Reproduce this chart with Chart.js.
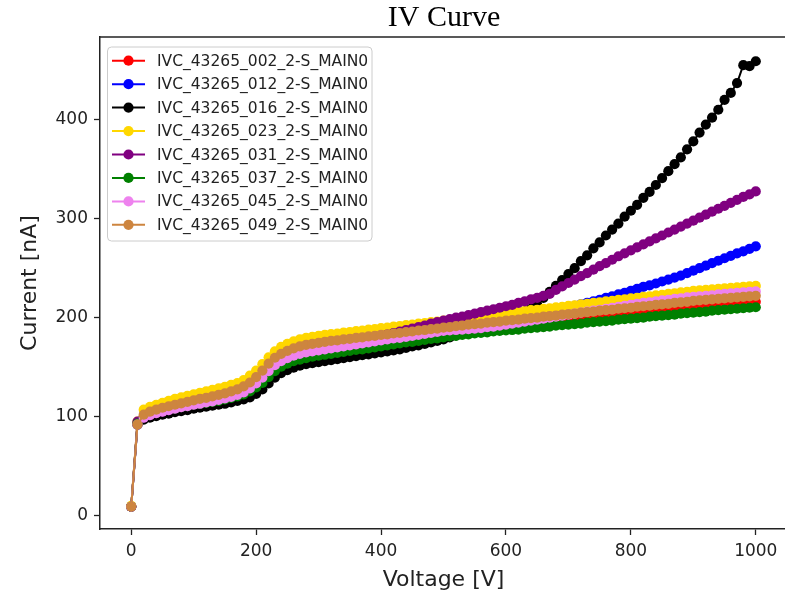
<!DOCTYPE html>
<html>
<head>
<meta charset="utf-8">
<title>IV Curve</title>
<script src="https://cdn.jsdelivr.net/npm/chart.js@4"></script>
<style>
    html, body { margin: 0; padding: 0; background: #fff; overflow: hidden; }
    #wrap { width: 785px; height: 595px; overflow: hidden; }
</style>
</head>
<body>
<div id="wrap"><canvas id="ivChart" width="800" height="595"></canvas></div>
<script>
// bias voltage steps [V]
const voltages = [
    0, 10, 20, 30, 40, 50, 60, 70, 80, 90,
    100, 110, 120, 130, 140, 150, 160, 170, 180, 190,
    200, 210, 220, 230, 240, 250, 260, 270, 280, 290,
    300, 310, 320, 330, 340, 350, 360, 370, 380, 390,
    400, 410, 420, 430, 440, 450, 460, 470, 480, 490,
    500, 510, 520, 530, 540, 550, 560, 570, 580, 590,
    600, 610, 620, 630, 640, 650, 660, 670, 680, 690,
    700, 710, 720, 730, 740, 750, 760, 770, 780, 790,
    800, 810, 820, 830, 840, 850, 860, 870, 880, 890,
    900, 910, 920, 930, 940, 950, 960, 970, 980, 990,
    1000
];

// leakage current [nA]
const i002 = [
    9, 93, 100, 102.5, 104.5, 106, 107.5, 108.5, 110, 111,
    112.5, 113.5, 114.5, 115.5, 116.5, 118, 119.5, 121, 123, 126,
    130, 134.5, 140.5, 146.5, 151, 154, 156.5, 158, 159.5, 161,
    162, 163, 164, 165, 166, 167, 168, 168.5, 169.5, 170.5,
    171.5, 172.5, 173.5, 174.5, 175.5, 176.5, 177.5, 178.5, 179.5, 180.5,
    181.5, 182.5, 183.5, 184.5, 185.5, 186.5, 187.5, 188, 189, 190,
    191, 191.5, 192.5, 193, 194, 195, 195.5, 196.5, 197, 198,
    199, 199.5, 200.5, 201, 202, 202.5, 203.5, 204, 205, 205.5,
    206.5, 207, 207.5, 208.5, 209, 209.5, 210.5, 211, 211.5, 212,
    212.5, 213, 213.5, 214, 214, 214.5, 215, 215, 215.5, 215.5,
    216
];
const i012 = [
    9, 92, 98, 100.5, 102, 103.5, 105, 106, 107.5, 108.5,
    110, 111, 112, 113, 114, 115.5, 117, 118.5, 120.5, 123,
    127, 131.5, 137.5, 143.5, 148, 151, 153.5, 155.5, 157, 158,
    159, 160, 161, 162, 163, 164, 165, 166, 167, 168,
    169, 170, 171, 172, 173, 174, 175, 176.5, 177.5, 179,
    180.5, 182, 183.5, 185, 186.5, 188, 189.5, 191, 192.5, 194,
    195.5, 197, 198.5, 200, 201.5, 203, 204.5, 206, 207.5, 209,
    210.5, 212, 213.5, 215, 216.5, 218, 220, 221.5, 223.5, 225,
    227, 229, 231, 232.5, 234.5, 236.5, 238.5, 240.5, 242.5, 245,
    247.5, 250, 252.5, 255, 257.5, 260, 262.5, 265, 267, 269.5,
    272
];
const i016 = [
    9, 92, 97, 99, 100.5, 102, 103, 104.5, 105.5, 106.5,
    108, 109, 110, 111, 112, 113, 114.5, 116, 117.5, 119.5,
    123, 127.5, 133.5, 139.5, 144, 147, 149.5, 151.5, 153, 154,
    155, 156, 157, 158, 159, 160, 161, 162, 163, 164,
    165, 166, 167, 168, 169.5, 171, 172, 173.5, 175, 176.5,
    178, 180, 182, 184, 186, 188, 190, 192, 194, 196,
    198, 200.5, 203, 206, 209, 213, 220, 226, 232, 238,
    244, 250, 257, 263, 270, 276, 283, 289, 295, 302,
    308, 314, 321, 327, 334, 341, 348, 355, 362, 370,
    378, 387, 395, 402, 410, 420, 427, 437, 455, 454,
    459
];
const i023 = [
    10, 95, 107, 110, 112, 114, 116, 118, 119.5, 121,
    122.5, 124, 125.5, 127, 128.5, 130, 132, 134, 137, 141.5,
    146.5, 153, 160, 166, 170.5, 173.5, 176, 178, 179.5, 180.5,
    181.5, 182.5, 183.5, 184, 185, 185.5, 186.5, 187, 188, 188.5,
    189.5, 190, 191, 191.5, 192.5, 193, 194, 194.5, 195.5, 196,
    197, 197.5, 198.5, 199, 200, 200.5, 201.5, 202, 203, 203.5,
    204.5, 205, 206, 206.5, 207.5, 208, 209, 209.5, 210.5, 211,
    212, 212.5, 213.5, 214, 215, 215.5, 216.5, 217, 218, 218.5,
    219.5, 220, 221, 221.5, 222.5, 223, 224, 224.5, 225.5, 226,
    227, 227.5, 228, 228.5, 229, 229.5, 230, 230.5, 231, 231.5,
    232
];
const i031 = [
    9, 95, 99, 101.5, 103.5, 105, 106.5, 108, 109.5, 110.5,
    112, 113, 114.5, 115.5, 117, 118.5, 120, 122, 124.5, 128.5,
    133.5, 139.5, 146, 152, 156, 159, 161.5, 164, 165.5, 167,
    168.5, 170, 171, 172.5, 174, 175, 176.5, 177.5, 179, 180,
    181.5, 183, 184.5, 186, 187.5, 189, 190.5, 192, 194, 195.5,
    197, 198.5, 200, 201, 202.5, 204, 205.5, 207, 208.5, 210,
    211.5, 213, 215, 216.5, 218.5, 220, 222, 224, 228, 231.5,
    235, 238.5, 242, 245, 248.5, 252, 255, 258.5, 262, 265,
    268, 271, 274, 277, 280, 283, 286, 289, 292, 295,
    298, 301, 304, 307, 310, 313, 316, 319, 322, 324.5,
    327.5
];
const i037 = [
    9, 93, 99.5, 102, 104, 105.5, 107, 108, 109.5, 110.5,
    112, 113, 114, 115, 116, 117.5, 119, 120.5, 122.5, 125.5,
    129.5, 134, 140, 146, 150.5, 153.5, 156, 157.5, 159, 160.5,
    161.5, 162.5, 163.5, 164.5, 165.5, 166.5, 167.5, 168, 169, 170,
    171, 172, 173, 174, 175, 175.5, 176.5, 177.5, 178.5, 179,
    180, 181, 181.5, 182.5, 183, 184, 184.5, 185, 186, 186.5,
    187, 187.5, 188, 189, 189.5, 190, 190.5, 191, 192, 192.5,
    193, 193.5, 194, 195, 195.5, 196, 196.5, 197, 198, 198.5,
    199, 199.5, 200, 201, 201.5, 202, 202.5, 203, 204, 204.5,
    205, 205.5, 206, 207, 207.5, 208, 208.5, 209, 209.5, 210,
    210.5
];
const i045 = [
    9, 92, 99, 101.5, 103.5, 105, 106.5, 108, 109.5, 110.5,
    112, 113, 114.5, 115.5, 117, 118.5, 120, 122, 124.5, 128.5,
    133.5, 139.5, 146, 152, 156, 159, 161.5, 163.5, 165, 166,
    167, 168, 169, 170, 171, 172, 173, 174, 175, 176,
    177, 178, 179, 179.5, 180.5, 181.5, 182.5, 183.5, 184.5, 185.5,
    186.5, 187, 187.5, 188, 188.5, 189, 189.5, 190.5, 191, 192,
    193, 194, 195, 196, 197, 198, 199, 200, 201, 202,
    203, 204, 205, 206, 207, 208, 209, 210, 211, 212,
    213, 214, 215, 215.5, 216.5, 217.5, 218, 219, 219.5, 220.5,
    221, 221.5, 222, 222.5, 223.5, 224, 224.5, 225, 225.5, 226,
    226.5
];
const i049 = [
    9, 92, 102, 105, 107, 109, 110.5, 112, 113.5, 115,
    116.5, 118, 119, 120.5, 122, 123.5, 125.5, 127.5, 130.5, 134.5,
    140, 146.5, 153.5, 159.5, 163.5, 166.5, 169, 171, 172.5, 173.5,
    174.5, 175.5, 176.5, 177, 178, 178.5, 179.5, 180, 181, 181.5,
    182.5, 183, 184, 184.5, 185.5, 186, 187, 187.5, 188.5, 189,
    190, 190.5, 191.5, 192, 193, 193.5, 194, 195, 195.5, 196,
    197, 197.5, 198, 199, 199.5, 200, 201, 201.5, 202, 203,
    203.5, 204, 205, 205.5, 206, 207, 207.5, 208, 209, 209.5,
    210, 211, 211.5, 212, 213, 213.5, 214, 215, 215.5, 216,
    217, 217.5, 218, 218.5, 219, 219.5, 220, 220.5, 221, 221.5,
    222
];

const seriesNames = [
    'IVC_43265_002_2-S_MAIN0', 'IVC_43265_012_2-S_MAIN0',
    'IVC_43265_016_2-S_MAIN0', 'IVC_43265_023_2-S_MAIN0',
    'IVC_43265_031_2-S_MAIN0', 'IVC_43265_037_2-S_MAIN0',
    'IVC_43265_045_2-S_MAIN0', 'IVC_43265_049_2-S_MAIN0'
];
const seriesValues = [i002, i012, i016, i023, i031, i037, i045, i049];
const seriesColors = ['#ff0000', '#0000ff', '#000000', '#ffd700', '#800080', '#008000', '#ee82ee', '#cd853f'];

const xTicks = [0, 200, 400, 600, 800, 1000];
const yTicks = [0, 100, 200, 300, 400];
const chartTitle = 'IV Curve';

const axisColor = '#222';
const markerRadius = 5.1;

// matplotlib draws later series on top, chart.js the other way round -> use order
const datasets = seriesNames.map((name, i) => ({
    label: name,
    data: voltages.map((v, k) => ({ x: v, y: seriesValues[i][k] })),
    borderColor: seriesColors[i],
    backgroundColor: seriesColors[i],
    pointBackgroundColor: seriesColors[i],
    pointBorderWidth: 0,
    pointRadius: markerRadius,
    borderWidth: 2,
    tension: 0,
    order: seriesNames.length - i
}));

// title, top frame line and the boxed legend inside the axes
const decor = {
    id: 'decor',
    afterDraw(chart) {
        const { ctx, chartArea: a } = chart;
        ctx.save();

        ctx.strokeStyle = axisColor;
        ctx.lineWidth = 1.5;
        ctx.beginPath();
        ctx.moveTo(a.left, a.top);
        ctx.lineTo(a.right + 20, a.top);
        ctx.stroke();

        ctx.fillStyle = '#000';
        ctx.font = '30px "Liberation Serif"';
        ctx.textAlign = 'center';
        ctx.textBaseline = 'middle';
        ctx.fillText(chartTitle, 444, 18);

        // legend box
        const bx = 107.5, by = 47, bw = 264.5, bh = 194, r = 4;
        ctx.beginPath();
        ctx.moveTo(bx + r, by);
        ctx.arcTo(bx + bw, by, bx + bw, by + bh, r);
        ctx.arcTo(bx + bw, by + bh, bx, by + bh, r);
        ctx.arcTo(bx, by + bh, bx, by, r);
        ctx.arcTo(bx, by, bx + bw, by, r);
        ctx.closePath();
        ctx.fillStyle = 'rgba(255,255,255,0.8)';
        ctx.fill();
        ctx.strokeStyle = '#cccccc';
        ctx.lineWidth = 1;
        ctx.stroke();

        ctx.font = '15.5px "DejaVu Sans"';
        ctx.textAlign = 'left';
        seriesNames.forEach((name, i) => {
            const y = 60.7 + i * 23.45;
            ctx.strokeStyle = seriesColors[i];
            ctx.lineWidth = 2;
            ctx.beginPath();
            ctx.moveTo(112, y);
            ctx.lineTo(145, y);
            ctx.stroke();
            ctx.fillStyle = seriesColors[i];
            ctx.beginPath();
            ctx.arc(128.5, y, markerRadius, 0, Math.PI * 2);
            ctx.fill();
            ctx.fillStyle = '#222';
            ctx.fillText(name, 157, y + 1);
        });

        ctx.restore();
    }
};

new Chart(document.getElementById('ivChart'), {
    type: 'line',
    data: { datasets: datasets },
    options: {
        responsive: false,
        animation: false,
        devicePixelRatio: 1,
        events: [],
        layout: { padding: { top: 37, right: 13, left: 0, bottom: 0 } },
        plugins: {
            legend: { display: false },
            tooltip: { enabled: false },
            title: { display: false }
        },
        scales: {
            x: {
                type: 'linear',
                min: -50,
                max: 1050,
                afterBuildTicks: (scale) => { scale.ticks = xTicks.map(v => ({ value: v })); },
                afterFit: (scale) => { scale.height = 66; },
                border: { color: axisColor, width: 1.5 },
                grid: { drawOnChartArea: false, drawTicks: true, tickLength: 6, tickColor: axisColor, tickWidth: 1.3 },
                ticks: {
                    color: '#222',
                    padding: 6,
                    maxRotation: 0,
                    font: { family: 'DejaVu Sans', size: 17 },
                    callback: (v) => String(v)
                },
                title: {
                    display: true,
                    text: 'Voltage [V]',
                    color: '#222',
                    font: { family: 'DejaVu Sans', size: 22 },
                    padding: { top: 0, bottom: 2 }
                }
            },
            y: {
                type: 'linear',
                min: -13.5,
                max: 483.5,
                afterBuildTicks: (scale) => { scale.ticks = yTicks.map(v => ({ value: v })); },
                afterFit: (scale) => { scale.width = 100; },
                border: { color: axisColor, width: 1.5 },
                grid: { drawOnChartArea: false, drawTicks: true, tickLength: 6, tickColor: axisColor, tickWidth: 1.3 },
                ticks: {
                    color: '#222',
                    padding: 6,
                    font: { family: 'DejaVu Sans', size: 17 },
                    callback: (v) => String(v)
                },
                title: {
                    display: true,
                    text: 'Current [nA]',
                    color: '#222',
                    font: { family: 'DejaVu Sans', size: 22 },
                    padding: { top: 17, bottom: 0 }
                }
            }
        }
    },
    plugins: [decor]
});
</script>
</body>
</html>
